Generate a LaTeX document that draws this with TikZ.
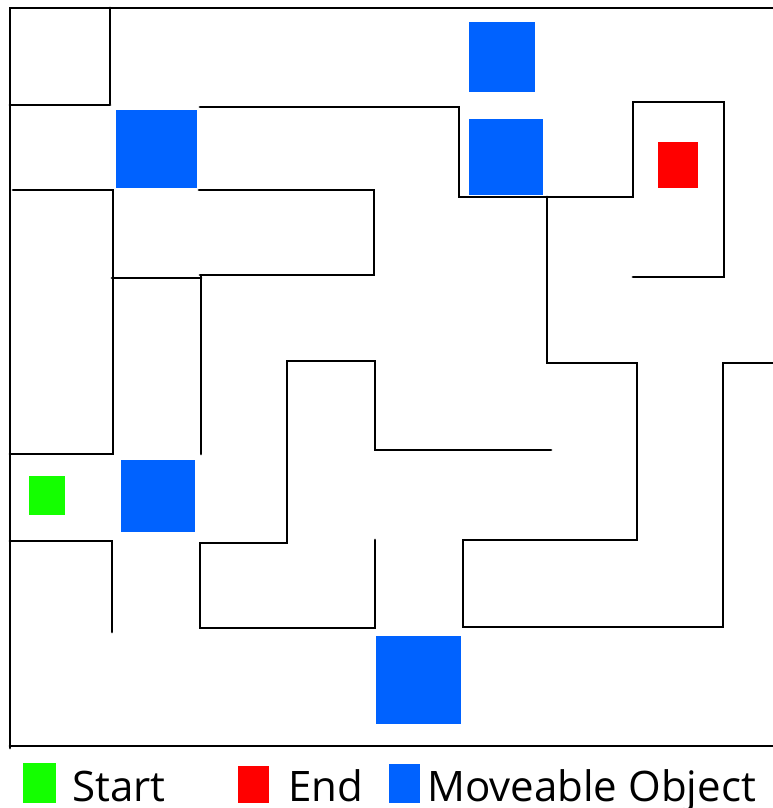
\documentclass[tikz,border=0pt]{standalone}
\usepackage{fontspec}
\setmainfont{Open Sans}
\usepackage{tikz}
\usetikzlibrary{positioning}
\definecolor{objblue}{RGB}{0,98,255}
\definecolor{startgreen}{RGB}{20,255,0}
\definecolor{endred}{RGB}{255,0,0}

\begin{document}
\begin{tikzpicture}[x=1pt,y=-1pt,
    wall/.style={black,line width=2.9pt,line cap=round,line join=miter},
    legendtext/.style={anchor=base west,inner sep=0pt,text depth=0pt,
      font=\fontsize{42}{42}\selectfont}]
  \useasboundingbox (0,0) rectangle (773,808);
  % outer border (open on the right)
  \draw[wall] (773,8) -- (10,8) -- (10,748);
  \draw[wall] (10,746) -- (773,746);
  % inner walls
  \draw[wall] (110,8) -- (110,104);
  \draw[wall] (10,105) -- (110,105);
  \draw[wall] (200,107) -- (459,107) -- (459,197) -- (633,197) -- (633,102)
    -- (724,102) -- (724,277) -- (633,277);
  \draw[wall] (547,197) -- (547,363) -- (637,363) -- (637,540) -- (463,540)
    -- (463,627) -- (723,627) -- (723,363) -- (773,363);
  \draw[wall] (551,450) -- (375,450) -- (375,361) -- (287,361) -- (287,543)
    -- (200,543) -- (200,628) -- (375,628) -- (375,540);
  \draw[wall] (13,190) -- (113,190) -- (113,454) -- (10,454);
  \draw[wall] (199,190) -- (374,190) -- (374,275) -- (200,275);
  \draw[wall] (201,276) -- (201,454);
  \draw[wall] (112,278) -- (201,278);
  \draw[wall] (10,541) -- (112,541) -- (112,632);
  % moveable objects
  \foreach \xa/\ya/\xb/\yb in {116/110/197/188, 469/22/535/92, 469/119/543/195,
      121/460/195/532, 376/636/461/724}
    \fill[objblue] (\xa,\ya) rectangle (\xb,\yb);
  % start and end
  \fill[startgreen] (29,476) rectangle (65,515);
  \fill[endred] (658,142) rectangle (698,188);
  % legend
  \fill[startgreen] (23,763) rectangle (56,803);
  \node[legendtext] (start) at (72,801) {Start};
  \fill[endred] (238,766) rectangle (269,803);
  \node[legendtext] (end) at (288,801) {End};
  \fill[objblue] (389,764) rectangle (420,803);
  \node[legendtext] (moveable) at (427,801) {Moveable Object};
\end{tikzpicture}
\end{document}
